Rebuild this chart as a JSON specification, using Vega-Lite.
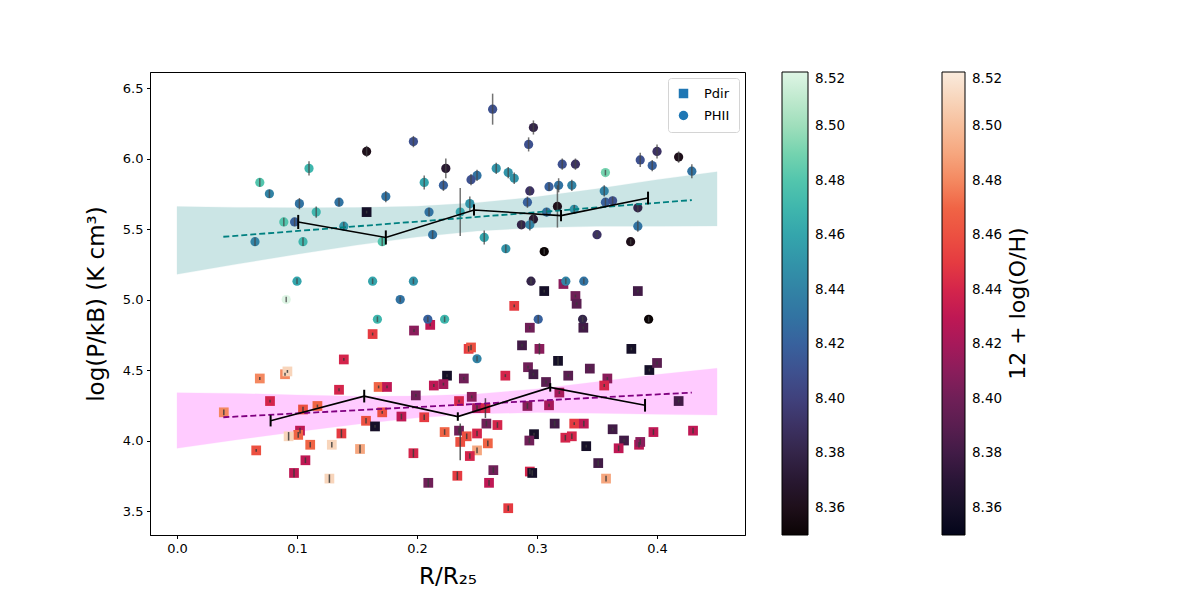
{
  "$schema": "https://vega.github.io/schema/vega-lite/v6.json",
  "autosize": {"type": "none"},
  "padding": {"left": 150, "top": 72, "right": 455, "bottom": 65},
  "width": 595,
  "height": 463,
  "background": "white",
  "title": {
    "text": "12 + log(O/H)",
    "orient": "right",
    "anchor": "middle",
    "frame": "group",
    "angle": 270,
    "offset": -17,
    "fontSize": 22,
    "fontWeight": "normal",
    "color": "black",
    "font": "DejaVu Sans"
  },
  "config": {
    "font": "DejaVu Sans",
    "view": {"stroke": "black", "strokeWidth": 1},
    "axis": {
      "grid": false,
      "domainColor": "black",
      "tickColor": "black",
      "tickSize": 3.5,
      "labelColor": "black",
      "labelFontSize": 13,
      "labelPadding": 3.5,
      "titleFontSize": 23,
      "titleFontWeight": "normal",
      "titleColor": "black"
    }
  },
  "datasets": {
    "hii": [
      {"r": 0.069, "p": 5.83, "oh": 8.48, "err": 0.03},
      {"r": 0.077, "p": 5.75, "oh": 8.44, "err": 0.03},
      {"r": 0.110, "p": 5.93, "oh": 8.47, "err": 0.05},
      {"r": 0.102, "p": 5.68, "oh": 8.43, "err": 0.04},
      {"r": 0.135, "p": 5.69, "oh": 8.43, "err": 0.03},
      {"r": 0.116, "p": 5.62, "oh": 8.47, "err": 0.04},
      {"r": 0.089, "p": 5.55, "oh": 8.48, "err": 0.03},
      {"r": 0.098, "p": 5.55, "oh": 8.42, "err": 0.03},
      {"r": 0.065, "p": 5.41, "oh": 8.44, "err": 0.03},
      {"r": 0.105, "p": 5.41, "oh": 8.47, "err": 0.03},
      {"r": 0.139, "p": 5.52, "oh": 8.45, "err": 0.03},
      {"r": 0.158, "p": 6.05, "oh": 8.36, "err": 0.04},
      {"r": 0.197, "p": 6.12, "oh": 8.41, "err": 0.04},
      {"r": 0.224, "p": 5.93, "oh": 8.37, "err": 0.07},
      {"r": 0.206, "p": 5.83, "oh": 8.46, "err": 0.05},
      {"r": 0.222, "p": 5.81, "oh": 8.42, "err": 0.04},
      {"r": 0.174, "p": 5.73, "oh": 8.43, "err": 0.04},
      {"r": 0.210, "p": 5.62, "oh": 8.43, "err": 0.03},
      {"r": 0.213, "p": 5.46, "oh": 8.43, "err": 0.03},
      {"r": 0.171, "p": 5.41, "oh": 8.48, "err": 0.03},
      {"r": 0.236, "p": 5.62, "oh": 8.46, "err": 0.17},
      {"r": 0.244, "p": 5.68, "oh": 8.45, "err": 0.05},
      {"r": 0.100, "p": 5.13, "oh": 8.46, "err": 0.02},
      {"r": 0.163, "p": 5.13, "oh": 8.46, "err": 0.02},
      {"r": 0.197, "p": 5.13, "oh": 8.45, "err": 0.02},
      {"r": 0.091, "p": 5.00, "oh": 8.52, "err": 0.02},
      {"r": 0.186, "p": 5.00, "oh": 8.43, "err": 0.02},
      {"r": 0.167, "p": 4.86, "oh": 8.47, "err": 0.02},
      {"r": 0.209, "p": 4.86, "oh": 8.42, "err": 0.02},
      {"r": 0.223, "p": 4.86, "oh": 8.47, "err": 0.02},
      {"r": 0.263, "p": 6.35, "oh": 8.41, "err": 0.11},
      {"r": 0.297, "p": 6.22, "oh": 8.38, "err": 0.05},
      {"r": 0.293, "p": 6.10, "oh": 8.41, "err": 0.05},
      {"r": 0.266, "p": 5.93, "oh": 8.45, "err": 0.04},
      {"r": 0.276, "p": 5.90, "oh": 8.45, "err": 0.04},
      {"r": 0.281, "p": 5.86, "oh": 8.45, "err": 0.04},
      {"r": 0.250, "p": 5.88, "oh": 8.43, "err": 0.04},
      {"r": 0.245, "p": 5.85, "oh": 8.41, "err": 0.04},
      {"r": 0.321, "p": 5.96, "oh": 8.41, "err": 0.04},
      {"r": 0.332, "p": 5.96, "oh": 8.39, "err": 0.04},
      {"r": 0.386, "p": 5.99, "oh": 8.41, "err": 0.05},
      {"r": 0.400, "p": 6.05, "oh": 8.39, "err": 0.05},
      {"r": 0.418, "p": 6.01, "oh": 8.36, "err": 0.04},
      {"r": 0.396, "p": 5.95, "oh": 8.42, "err": 0.04},
      {"r": 0.429, "p": 5.91, "oh": 8.43, "err": 0.05},
      {"r": 0.357, "p": 5.90, "oh": 8.49, "err": 0.02},
      {"r": 0.294, "p": 5.77, "oh": 8.39, "err": 0.03},
      {"r": 0.310, "p": 5.80, "oh": 8.42, "err": 0.03},
      {"r": 0.318, "p": 5.81, "oh": 8.43, "err": 0.05},
      {"r": 0.329, "p": 5.81, "oh": 8.44, "err": 0.04},
      {"r": 0.356, "p": 5.77, "oh": 8.44, "err": 0.04},
      {"r": 0.292, "p": 5.69, "oh": 8.42, "err": 0.04},
      {"r": 0.357, "p": 5.69, "oh": 8.42, "err": 0.03},
      {"r": 0.363, "p": 5.70, "oh": 8.41, "err": 0.03},
      {"r": 0.317, "p": 5.66, "oh": 8.36, "err": 0.15},
      {"r": 0.331, "p": 5.64, "oh": 8.45, "err": 0.03},
      {"r": 0.308, "p": 5.62, "oh": 8.43, "err": 0.03},
      {"r": 0.384, "p": 5.65, "oh": 8.38, "err": 0.03},
      {"r": 0.287, "p": 5.53, "oh": 8.38, "err": 0.03},
      {"r": 0.297, "p": 5.57, "oh": 8.37, "err": 0.03},
      {"r": 0.294, "p": 5.53, "oh": 8.44, "err": 0.04},
      {"r": 0.256, "p": 5.44, "oh": 8.46, "err": 0.05},
      {"r": 0.274, "p": 5.36, "oh": 8.45, "err": 0.03},
      {"r": 0.350, "p": 5.46, "oh": 8.39, "err": 0.02},
      {"r": 0.384, "p": 5.52, "oh": 8.43, "err": 0.04},
      {"r": 0.378, "p": 5.41, "oh": 8.36, "err": 0.02},
      {"r": 0.306, "p": 5.34, "oh": 8.35, "err": 0.02},
      {"r": 0.295, "p": 5.13, "oh": 8.38, "err": 0.02},
      {"r": 0.324, "p": 5.13, "oh": 8.44, "err": 0.02},
      {"r": 0.339, "p": 5.13, "oh": 8.43, "err": 0.02},
      {"r": 0.301, "p": 4.86, "oh": 8.42, "err": 0.03},
      {"r": 0.338, "p": 4.86, "oh": 8.38, "err": 0.02},
      {"r": 0.393, "p": 4.86, "oh": 8.35, "err": 0.02},
      {"r": 0.250, "p": 4.58, "oh": 8.44, "err": 0.02}
    ],
    "dir": [
      {"r": 0.158, "p": 5.62, "oh": 8.36, "err": 0.01},
      {"r": 0.163, "p": 4.755, "oh": 8.45, "err": 0.01},
      {"r": 0.1975, "p": 4.78, "oh": 8.41, "err": 0.01},
      {"r": 0.211, "p": 4.82, "oh": 8.43, "err": 0.01},
      {"r": 0.139, "p": 4.575, "oh": 8.44, "err": 0.01},
      {"r": 0.069, "p": 4.44, "oh": 8.48, "err": 0.01},
      {"r": 0.090, "p": 4.47, "oh": 8.48, "err": 0.01},
      {"r": 0.092, "p": 4.49, "oh": 8.51, "err": 0.01},
      {"r": 0.135, "p": 4.36, "oh": 8.44, "err": 0.01},
      {"r": 0.0775, "p": 4.28, "oh": 8.44, "err": 0.01},
      {"r": 0.168, "p": 4.38, "oh": 8.47, "err": 0.01},
      {"r": 0.175, "p": 4.38, "oh": 8.43, "err": 0.01},
      {"r": 0.225, "p": 4.46, "oh": 8.36, "err": 0.01},
      {"r": 0.239, "p": 4.44, "oh": 8.40, "err": 0.01},
      {"r": 0.214, "p": 4.39, "oh": 8.43, "err": 0.01},
      {"r": 0.222, "p": 4.40, "oh": 8.42, "err": 0.01},
      {"r": 0.199, "p": 4.32, "oh": 8.40, "err": 0.01},
      {"r": 0.235, "p": 4.28, "oh": 8.44, "err": 0.01},
      {"r": 0.039, "p": 4.20, "oh": 8.48, "err": 0.02},
      {"r": 0.105, "p": 4.22, "oh": 8.46, "err": 0.02},
      {"r": 0.117, "p": 4.245, "oh": 8.47, "err": 0.01},
      {"r": 0.1575, "p": 4.14, "oh": 8.46, "err": 0.02},
      {"r": 0.171, "p": 4.20, "oh": 8.46, "err": 0.01},
      {"r": 0.187, "p": 4.17, "oh": 8.43, "err": 0.02},
      {"r": 0.206, "p": 4.165, "oh": 8.45, "err": 0.02},
      {"r": 0.165, "p": 4.10, "oh": 8.36, "err": 0.01},
      {"r": 0.1025, "p": 4.07, "oh": 8.43, "err": 0.02},
      {"r": 0.101, "p": 4.04, "oh": 8.47, "err": 0.02},
      {"r": 0.093, "p": 4.03, "oh": 8.51, "err": 0.03},
      {"r": 0.111, "p": 3.97, "oh": 8.47, "err": 0.02},
      {"r": 0.137, "p": 4.05, "oh": 8.45, "err": 0.03},
      {"r": 0.129, "p": 3.97, "oh": 8.51, "err": 0.02},
      {"r": 0.1525, "p": 3.94, "oh": 8.49, "err": 0.03},
      {"r": 0.066, "p": 3.93, "oh": 8.46, "err": 0.01},
      {"r": 0.107, "p": 3.86, "oh": 8.43, "err": 0.02},
      {"r": 0.0975, "p": 3.77, "oh": 8.43, "err": 0.03},
      {"r": 0.127, "p": 3.73, "oh": 8.51, "err": 0.03},
      {"r": 0.197, "p": 3.91, "oh": 8.44, "err": 0.03},
      {"r": 0.223, "p": 4.06, "oh": 8.47, "err": 0.02},
      {"r": 0.235, "p": 4.07, "oh": 8.40, "err": 0.02},
      {"r": 0.236, "p": 3.99, "oh": 8.46, "err": 0.13},
      {"r": 0.2336, "p": 3.75, "oh": 8.45, "err": 0.03},
      {"r": 0.2094, "p": 3.70, "oh": 8.40, "err": 0.03},
      {"r": 0.243, "p": 4.65, "oh": 8.45, "err": 0.02},
      {"r": 0.306, "p": 5.06, "oh": 8.36, "err": 0.01},
      {"r": 0.322, "p": 5.11, "oh": 8.41, "err": 0.01},
      {"r": 0.332, "p": 5.025, "oh": 8.40, "err": 0.01},
      {"r": 0.333, "p": 4.97, "oh": 8.39, "err": 0.01},
      {"r": 0.384, "p": 5.06, "oh": 8.38, "err": 0.01},
      {"r": 0.281, "p": 4.955, "oh": 8.45, "err": 0.01},
      {"r": 0.294, "p": 4.80, "oh": 8.40, "err": 0.01},
      {"r": 0.3386, "p": 4.80, "oh": 8.38, "err": 0.01},
      {"r": 0.2875, "p": 4.675, "oh": 8.38, "err": 0.01},
      {"r": 0.302, "p": 4.65, "oh": 8.41, "err": 0.04},
      {"r": 0.245, "p": 4.66, "oh": 8.46, "err": 0.02},
      {"r": 0.3786, "p": 4.65, "oh": 8.36, "err": 0.01},
      {"r": 0.3175, "p": 4.565, "oh": 8.36, "err": 0.03},
      {"r": 0.2925, "p": 4.52, "oh": 8.40, "err": 0.01},
      {"r": 0.297, "p": 4.47, "oh": 8.38, "err": 0.01},
      {"r": 0.2736, "p": 4.46, "oh": 8.44, "err": 0.01},
      {"r": 0.326, "p": 4.46, "oh": 8.39, "err": 0.01},
      {"r": 0.344, "p": 4.51, "oh": 8.39, "err": 0.01},
      {"r": 0.3075, "p": 4.415, "oh": 8.39, "err": 0.01},
      {"r": 0.3586, "p": 4.44, "oh": 8.41, "err": 0.01},
      {"r": 0.356, "p": 4.39, "oh": 8.44, "err": 0.01},
      {"r": 0.3936, "p": 4.50, "oh": 8.36, "err": 0.01},
      {"r": 0.400, "p": 4.55, "oh": 8.39, "err": 0.01},
      {"r": 0.418, "p": 4.28, "oh": 8.38, "err": 0.01},
      {"r": 0.3186, "p": 4.34, "oh": 8.42, "err": 0.01},
      {"r": 0.310, "p": 4.25, "oh": 8.42, "err": 0.01},
      {"r": 0.292, "p": 4.245, "oh": 8.41, "err": 0.02},
      {"r": 0.2456, "p": 4.31, "oh": 8.41, "err": 0.01},
      {"r": 0.250, "p": 4.23, "oh": 8.42, "err": 0.02},
      {"r": 0.257, "p": 4.23, "oh": 8.44, "err": 0.07},
      {"r": 0.2578, "p": 4.12, "oh": 8.40, "err": 0.02},
      {"r": 0.267, "p": 4.11, "oh": 8.44, "err": 0.02},
      {"r": 0.250, "p": 4.05, "oh": 8.44, "err": 0.02},
      {"r": 0.2414, "p": 4.03, "oh": 8.46, "err": 0.02},
      {"r": 0.259, "p": 3.98, "oh": 8.47, "err": 0.02},
      {"r": 0.250, "p": 3.93, "oh": 8.49, "err": 0.02},
      {"r": 0.244, "p": 3.89, "oh": 8.44, "err": 0.02},
      {"r": 0.2636, "p": 3.79, "oh": 8.40, "err": 0.02},
      {"r": 0.260, "p": 3.70, "oh": 8.43, "err": 0.02},
      {"r": 0.276, "p": 3.52, "oh": 8.45, "err": 0.02},
      {"r": 0.2975, "p": 4.045, "oh": 8.36, "err": 0.01},
      {"r": 0.2936, "p": 4.00, "oh": 8.40, "err": 0.02},
      {"r": 0.3147, "p": 4.12, "oh": 8.38, "err": 0.02},
      {"r": 0.331, "p": 4.12, "oh": 8.45, "err": 0.01},
      {"r": 0.339, "p": 4.12, "oh": 8.43, "err": 0.02},
      {"r": 0.3236, "p": 4.02, "oh": 8.44, "err": 0.02},
      {"r": 0.329, "p": 4.03, "oh": 8.44, "err": 0.02},
      {"r": 0.341, "p": 3.96, "oh": 8.36, "err": 0.01},
      {"r": 0.363, "p": 4.08, "oh": 8.38, "err": 0.01},
      {"r": 0.3725, "p": 4.00, "oh": 8.38, "err": 0.01},
      {"r": 0.368, "p": 3.945, "oh": 8.43, "err": 0.02},
      {"r": 0.385, "p": 3.97, "oh": 8.43, "err": 0.02},
      {"r": 0.386, "p": 3.99, "oh": 8.41, "err": 0.02},
      {"r": 0.397, "p": 4.06, "oh": 8.43, "err": 0.02},
      {"r": 0.430, "p": 4.07, "oh": 8.43, "err": 0.02},
      {"r": 0.351, "p": 3.84, "oh": 8.38, "err": 0.02},
      {"r": 0.3575, "p": 3.73, "oh": 8.49, "err": 0.02},
      {"r": 0.294, "p": 3.78, "oh": 8.44, "err": 0.02},
      {"r": 0.296, "p": 3.77, "oh": 8.36, "err": 0.02}
    ],
    "bandHII": [
      {"r": 0.00, "p": 5.179, "p2": 5.659},
      {"r": 0.05, "p": 5.251, "p2": 5.653},
      {"r": 0.10, "p": 5.321, "p2": 5.651},
      {"r": 0.15, "p": 5.386, "p2": 5.652},
      {"r": 0.20, "p": 5.443, "p2": 5.661},
      {"r": 0.25, "p": 5.486, "p2": 5.686},
      {"r": 0.30, "p": 5.510, "p2": 5.728},
      {"r": 0.35, "p": 5.519, "p2": 5.785},
      {"r": 0.40, "p": 5.520, "p2": 5.850},
      {"r": 0.45, "p": 5.522, "p2": 5.906}
    ],
    "bandDir": [
      {"r": 0.00, "p": 3.945, "p2": 4.339},
      {"r": 0.05, "p": 4.006, "p2": 4.334},
      {"r": 0.10, "p": 4.063, "p2": 4.323},
      {"r": 0.15, "p": 4.116, "p2": 4.314},
      {"r": 0.20, "p": 4.161, "p2": 4.315},
      {"r": 0.25, "p": 4.190, "p2": 4.330},
      {"r": 0.30, "p": 4.198, "p2": 4.366},
      {"r": 0.35, "p": 4.194, "p2": 4.416},
      {"r": 0.40, "p": 4.186, "p2": 4.468},
      {"r": 0.45, "p": 4.181, "p2": 4.512}
    ],
    "fitHII": [
      {"r": 0.0386, "p": 5.445},
      {"r": 0.429, "p": 5.705}
    ],
    "fitDir": [
      {"r": 0.0386, "p": 4.165},
      {"r": 0.429, "p": 4.34}
    ],
    "med": [
      {"g": "hii", "r": 0.101, "p": 5.55, "err": 0.05},
      {"g": "hii", "r": 0.174, "p": 5.44, "err": 0.05},
      {"g": "hii", "r": 0.2475, "p": 5.635, "err": 0.04},
      {"g": "hii", "r": 0.320, "p": 5.595, "err": 0.04},
      {"g": "hii", "r": 0.3925, "p": 5.72, "err": 0.045},
      {"g": "dir", "r": 0.078, "p": 4.14, "err": 0.04},
      {"g": "dir", "r": 0.156, "p": 4.315, "err": 0.045},
      {"g": "dir", "r": 0.234, "p": 4.17, "err": 0.03},
      {"g": "dir", "r": 0.311, "p": 4.377, "err": 0.03},
      {"g": "dir", "r": 0.390, "p": 4.25, "err": 0.045}
    ]
  },
  "encoding": {
    "x": {
      "field": "r",
      "type": "quantitative",
      "scale": {"domain": [-0.0225, 0.4733], "nice": false, "zero": false},
      "axis": {"values": [0, 0.1, 0.2, 0.3, 0.4], "format": ".1f", "titlePadding": 10},
      "title": "R/R₂₅"
    },
    "y": {
      "field": "p",
      "type": "quantitative",
      "scale": {"domain": [3.33, 6.6135], "nice": false, "zero": false},
      "axis": {"values": [3.5, 4.0, 4.5, 5.0, 5.5, 6.0, 6.5], "format": ".1f", "titlePadding": 14},
      "title": "log(P/kB) (K cm³)"
    }
  },
  "layer": [
    {
      "data": {"name": "bandHII"},
      "mark": {"type": "area", "color": "#008080", "opacity": 0.2, "stroke": "#008080", "strokeOpacity": 0.25, "strokeWidth": 1},
      "encoding": {"y2": {"field": "p2"}}
    },
    {
      "data": {"name": "bandDir"},
      "mark": {"type": "area", "color": "#ff00ff", "opacity": 0.2, "stroke": "#ff00ff", "strokeOpacity": 0.25, "strokeWidth": 1},
      "encoding": {"y2": {"field": "p2"}}
    },
    {
      "data": {"name": "dir"},
      "mark": {"type": "point", "filled": true, "size": 95, "opacity": 1},
      "encoding": {
        "shape": {
          "datum": "Pdir",
          "scale": {"domain": ["Pdir", "PHII"], "range": ["square", "circle"]},
          "legend": {
            "title": null,
            "orient": "top-right",
            "offset": 6,
            "padding": 9,
            "rowPadding": 8,
            "symbolSize": 90,
            "symbolFillColor": "#1f77b4",
            "symbolStrokeColor": "#1f77b4",
            "symbolStrokeWidth": 0,
            "labelFontSize": 13,
            "labelOffset": 14,
            "strokeColor": "#d4d4d4",
            "cornerRadius": 3,
            "fillColor": "white"
          }
        },
        "color": {
          "field": "oh",
          "type": "quantitative",
          "scale": {
            "domain": [8.35, 8.52],
            "range": ["#03051A", "#221331", "#4C1D4B", "#711F57", "#A11A5B", "#CB1B4F", "#E83F3F", "#F06043", "#F69C73", "#F7C5A5", "#FAEBDD"]
          },
          "legend": {
            "orient": "none",
            "legendX": 792,
            "legendY": 0,
            "direction": "vertical",
            "gradientLength": 463,
            "gradientThickness": 23,
            "gradientStrokeColor": "black",
            "gradientStrokeWidth": 1,
            "values": [8.36, 8.38, 8.40, 8.42, 8.44, 8.46, 8.48, 8.50, 8.52],
            "format": ".2f",
            "labelFontSize": 13.5,
            "labelOffset": 7,
            "labelColor": "black",
            "padding": 0,
            "title": null
          }
        }
      }
    },
    {
      "data": {"name": "dir"},
      "mark": {"type": "errorbar", "color": "#3a3a3a", "thickness": 1.5, "opacity": 0.85},
      "encoding": {"yError": {"field": "err"}}
    },
    {
      "data": {"name": "hii"},
      "mark": {"type": "point", "filled": true, "size": 85, "opacity": 1},
      "encoding": {
        "shape": {"datum": "PHII"},
        "color": {
          "field": "oh",
          "type": "quantitative",
          "scale": {
            "domain": [8.35, 8.52],
            "range": ["#0B0405", "#24152A", "#382A54", "#40437F", "#3B5D9C", "#357BA2", "#3497A9", "#3DB4AD", "#60CEAC", "#A9E1BF", "#DEF5E5"]
          },
          "legend": {
            "orient": "none",
            "legendX": 632,
            "legendY": 0,
            "direction": "vertical",
            "gradientLength": 463,
            "gradientThickness": 26,
            "gradientStrokeColor": "black",
            "gradientStrokeWidth": 1,
            "values": [8.36, 8.38, 8.40, 8.42, 8.44, 8.46, 8.48, 8.50, 8.52],
            "format": ".2f",
            "labelFontSize": 13.5,
            "labelOffset": 7,
            "labelColor": "black",
            "padding": 0,
            "title": null
          }
        }
      }
    },
    {
      "data": {"name": "hii"},
      "mark": {"type": "errorbar", "color": "#444444", "thickness": 1.5, "opacity": 0.75},
      "encoding": {"yError": {"field": "err"}}
    },
    {
      "data": {"name": "fitHII"},
      "mark": {"type": "line", "color": "#008080", "strokeWidth": 1.8, "strokeDash": [6, 3]},
      "encoding": {}
    },
    {
      "data": {"name": "fitDir"},
      "mark": {"type": "line", "color": "#800080", "strokeWidth": 1.8, "strokeDash": [6, 3]},
      "encoding": {}
    },
    {
      "data": {"name": "med"},
      "mark": {"type": "line", "color": "black", "strokeWidth": 1.6},
      "encoding": {"detail": {"field": "g"}}
    },
    {
      "data": {"name": "med"},
      "mark": {"type": "errorbar", "color": "black", "thickness": 2},
      "encoding": {"yError": {"field": "err"}}
    }
  ],
  "resolve": {"scale": {"color": "independent"}}
}
